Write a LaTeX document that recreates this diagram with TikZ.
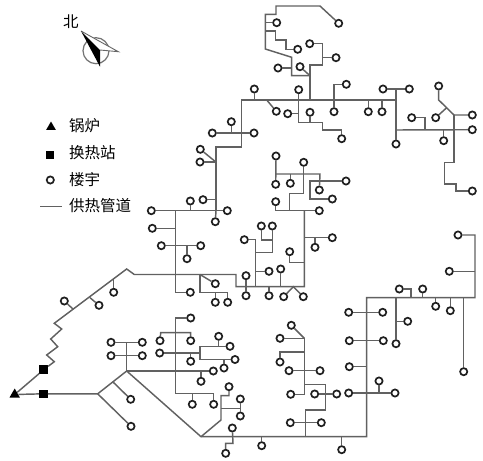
\documentclass[tikz,border=0pt]{standalone}
\usepackage{fontspec}
\usetikzlibrary{shapes.geometric}
\newfontfamily\cjk{Noto Sans CJK SC}
\definecolor{pipec}{gray}{0.38}
\tikzset{
  bld/.style={circle,draw=black!88,fill=white,line width=1.7pt,minimum size=7.2pt,inner sep=0pt},
  pipe/.style={draw=pipec,line width=1.45pt,line join=miter},
  sta/.style={rectangle,fill=black,minimum size=8.5pt,inner sep=0pt},
  boiler/.style={regular polygon,regular polygon sides=3,fill=black,minimum size=12pt,inner sep=0pt},
  lab/.style={anchor=west,inner sep=0pt,font=\cjk\fontsize{15.5}{15.5}\selectfont}
}
\begin{document}
\begin{tikzpicture}[x=1pt,y=-1pt]
\useasboundingbox (0,0) rectangle (483,461);
\fill[white] (0,0) rectangle (483,461);
% buildings
\foreach \n/\x/\y in {a1/338.7/23.3,a2/276.7/22.7,a3/297.7/49.3,a4/278/68,a5/300/66.7,a6/309.7/43.7,a7/336/57.7,a8/254.3/89,a9/298.7/89.7,a10/276.3/111.3,a11/287.7/113.7,a12/310/112.3,a13/341.7/138.7,a14/334/111.7,a15/346.3/84.3,a16/368.3/111.7,a17/382/111.7,a18/383/89,a19/409.3/89,a20/396/144,a21/472.3/129.7,a22/411.7/117.7,a23/443.7/140.7,a24/438.7/86,a25/472.3/115,a26/435.7/117.7,a27/472.3/191,a28/254/133,a29/212.3/133,a30/231.3/121.7,
c1/200.3/149.3,c2/200/162,c3/203/199.7,c4/151.3/210.7,c5/227.3/210.7,c6/190.3/201,c7/215.3/221.7,c8/152.3/228.3,c9/161.3/245.7,c10/200.7/245.7,c11/187/258.7,c12/190.3/292.3,c13/215.3/283.7,c14/215.3/302.3,c15/227.7/302.3,c16/246/275.7,c17/246/295.7,c18/269/295.7,c19/283.7/296.7,c20/303.3/296.7,c21/280.7/269,c22/269/271.3,c23/244.3/239.7,c24/272.3/226,c25/261.3/226,c26/289.7/251.7,c27/315/247.3,c28/332.3/237.7,c29/275.7/201.7,c30/319.3/210.7,c31/303.7/162.3,c32/276/156,c33/275.7/184.3,c34/290.3/183.3,c35/319.3/190,c36/346/181,c37/332.3/199,
d1/458/235,d2/449.3/271.3,d3/399.3/289,d4/422.7/289,d5/435.7/306.3,d6/450.3/310.7,d7/463.7/371.7,d8/396/343.7,d9/407.7/321.3,d10/348.7/312.3,d11/382.7/312.3,d12/349.3/340.7,d13/383.3/340.7,d14/349.3/366.7,d15/348.7/393,d16/395/393,d17/379/381,
e1/291.3/325.3,e2/280/338.3,e3/280/362,e4/289/370.7,e5/320/370.7,e6/290.7/394.3,e7/314.7/394,e8/336.7/394,e9/290.3/422.7,e10/321.3/422.7,e11/261.7/445.7,e12/341.7/449.7,
f1/64.3/301,f2/99/305.3,f3/113.7/292.3,f4/130.7/399.3,f5/131/426.3,f6/111/342.3,f7/142.3/342.3,f8/111/355.7,f9/142.3/355.7,f10/213.3/371,f11/201/381.3,f12/229/386.7,f13/240.3/399,f14/240.3/416,f15/232.3/428,f16/225.7/453.3,f17/190.7/318,f18/160/340.7,f19/190.7/340.7,f20/159.7/353,f21/190.7/361.3,f22/230/346.3,f23/218.7/336.3,f24/235/359.5,f25/224/368,f26/192.3/404.3,f27/213.7/404.3}
  {\node[bld] (\n) at (\x,\y) {};}
% sources and stations
\node[boiler] (boil) at (14.7,394.5) {};
\node[sta] (ex1) at (43.7,369.7) {};
\node[sta] (ex2) at (43.3,393.8) {};
% junctions
\coordinate (j0) at (97.7,393.8);
\coordinate (j1) at (126.7,371);
\coordinate (j2) at (201,436.7);
\coordinate (k1) at (175.7,210.7);
\coordinate (k2) at (304.3,210.7);
\coordinate (k3) at (366.7,297.7);
\begin{scope}[every path/.style={pipe}]
% north network
\draw (a1) -- (320,6) -- (276,6) -- (276,14.3) -- (265.3,14.3) -- (265.3,49) -- (291.7,57.3) -- (291.7,75.7) -- (310,75.7);
\draw (a2) -- (a2 -| 265.3,0);
\draw (a3) -- (286,49.3) -- (286,40) -- (275.7,40) -- (275.7,31) -- (265.3,31);
\draw (a4) -- (a4 -| 291.7,0);
\draw (a5) -- (310,75.7);
\draw (310,100) -- (310,65) -- (322.7,65) -- (322.7,43.7) -- (a6);
\draw (a7) -- (a7 -| 322.7,0);
\draw (k1 -| 216,0) -- (216,147) -- (241.7,147) -- (241.7,100) -- (396,100);
\draw (a8) -- (a8 |- 0,100);
\draw (a9) -- (298.7,122.3) -- (322.7,122.3) -- (322.7,130) -- (341.7,130) -- (a13);
\draw (a10) -- (266.7,100);
\draw (a11) -- (a11 -| 298.7,0);
\draw (a12) -- (a12 |- 0,122.3);
\draw (a14) -- (334,84.3) -- (a15);
\draw (a16) -- (a16 |- 0,100);
\draw (a17) -- (a17 |- 0,100);
\draw (a18) -- (a19);
\draw (396,89) -- (a20);
\draw (396,130) -- (a21);
\draw (a22) -- (425,117.7) -- (425,130);
\draw (a23) -- (a23 |- 0,130);
\draw (a24) -- (438.7,100) -- (454,115) -- (a25);
\draw (a26) -- (446.7,107.7);
\draw (454,115) -- (454,162.3) -- (444.7,162.3) -- (444.7,184) -- (456,184) -- (456,191) -- (a27);
\draw (a29) -- (241.7,133);
\draw (a28) -- (241.7,133);
\draw (a30) -- (a30 |- 0,133);
% west middle
\draw (c1) -- (215,161.3);
\draw (c2) -- (c2 -| 216,0);
\draw (c3) -- (c3 -| 216,0);
\draw (c4) -- (c5);
\draw (c6) -- (c6 |- 0,210.7);
\draw (216,210.7) -- (c7);
\draw (k1) -- (175.7,292.3) -- (c12);
\draw (c8) -- (c8 -| 175.7,0);
\draw (c9) -- (c10);
\draw (c11) -- (c11 |- 0,245.7);
% main to the centre
\draw (boil) -- (ex1);
\draw (ex1) -- (54.3,361.7) -- (46.7,355) -- (57.7,346.7) -- (50.7,339) -- (61.7,329) -- (54.3,323.3) -- (126.7,269) -- (134.3,274.5) -- (236,274.5) -- (236,286.7) -- (304.3,286.7) -- (k2);
\draw (f1) -- (73.3,309.3);
\draw (f2) -- (90,297.7);
\draw (f3) -- (113.7,279);
\draw (c13) -- (200,274.5);
\draw (200,274.5) -- (200,292.3) -- (227.7,292.3) -- (c15);
\draw (c14) -- (c14 |- 0,292.3);
\draw (c16) -- (c17);
\draw (c18) -- (c18 |- 0,286.7);
\draw (c19) -- (293.3,286.7) -- (c20);
\draw (c21) -- (c21 |- 0,286.7);
\draw (c22) -- (c22 -| 255.7,0);
\draw (255.7,286.7) -- (255.7,239.7) -- (c23);
\draw (255.7,252.3) -- (272.3,252.3) -- (c24);
\draw (c25) -- (261.3,240) -- (272.3,240);
\draw (c26) -- (289.7,262.7) -- (304.3,262.7);
\draw (304.3,237.7) -- (c28);
\draw (c27) -- (c27 |- 0,237.7);
\draw (c29) -- (275.7,210.7) -- (c30);
\draw (289.7,210.7) -- (289.7,193.3) -- (303.7,193.3) -- (c31);
\draw (c32) -- (c33);
\draw (275.7,174) -- (320,174) -- (c35);
\draw (c34) -- (c34 |- 0,174);
\draw (c36) -- (310,181) -- (310,199) -- (c37);
% southern main
\draw (boil) -- (ex2) -- (j0) -- (j1) -- (j2) -- (366.7,436.7) -- (k3) -- (475,297.7) -- (475,235) -- (d1);
\draw (j0) -- (f5);
\draw (f4) -- (113.3,382.3);
\draw (j1) -- (126.7,342.3);
\draw (f6) -- (f7);
\draw (f8) -- (f9);
\draw (j1) -- (f10);
\draw (f11) -- (f11 |- 0,371);
\draw (f17) -- (175.7,318) -- (175.7,393.3) -- (213.7,393.3) -- (f27);
\draw (f26) -- (f26 |- 0,393.3);
\draw (f18) -- (160.7,332.7) -- (190.7,332.7) -- (f19);
\draw (f20) -- (200,353);
\draw (f21) -- (f21 |- 0,353);
\draw (f22) -- (200,346.3) -- (200,359.5) -- (f24);
\draw (f23) -- (f23 |- 0,346.3);
\draw (f25) -- (f25 |- 0,359.5);
\draw (j2) -- (221,420) -- (221,395.7) -- (229,395.7) -- (f12);
\draw (221,408.3) -- (240.3,408.3);
\draw (f13) -- (f14);
\draw (f15) -- (233,443.3) -- (225.7,443.3) -- (f16);
\draw (e11) -- (e11 |- 0,436.7);
\draw (e12) -- (e12 |- 0,436.7);
% lower centre
\draw (e1) -- (304.3,338.3);
\draw (e2) -- (304.3,338.3) -- (304.3,394.3) -- (e6);
\draw (e3) -- (280,352) -- (304.3,352);
\draw (e4) -- (e5);
\draw (304.3,384.3) -- (325.7,384.3) -- (325.7,410) -- (305.3,410) -- (305.3,436.7);
\draw (e7) -- (e8);
\draw (e9) -- (e10);
% east
\draw (d2) -- (d2 -| 475,0);
\draw (d3) -- (411,289) -- (411,297.7);
\draw (d4) -- (d4 |- 0,297.7);
\draw (d5) -- (d5 |- 0,297.7);
\draw (d6) -- (d6 |- 0,297.7);
\draw (d7) -- (d7 |- 0,297.7);
\draw (396,297.7) -- (d8);
\draw (d9) -- (d9 -| 396,0);
\draw (d10) -- (d11);
\draw (d12) -- (d13);
\draw (d14) -- (d14 -| 366.7,0);
\draw (d15) -- (d16);
\draw (d17) -- (d17 |- 0,393);
\end{scope}
% compass
\node[circle,draw=black!55,line width=1.2pt,minimum size=26pt,inner sep=0pt] (ring) at (96,50.7) {};
\coordinate (nt) at (81,31);
\coordinate (et) at (118.3,51.7);
\coordinate (st) at (100,66.7);
\coordinate (cc) at (100,50);
\fill[white] (nt) -- (et) -- (cc) -- cycle;
\draw[black!60,line width=0.9pt] (nt) -- (et) -- (cc);
\fill[black] (nt) -- (cc) -- (st) -- cycle;
\node[lab] (north) at (63,22) {北};
% legend
\node[boiler,minimum size=11pt] (lg1) at (51,127) {};
\node[lab] (t1) at (69,126) {锅炉};
\node[sta,minimum size=8pt] (lg2) at (50.3,154.7) {};
\node[lab] (t2) at (69,153) {换热站};
\node[bld] (lg3) at (50.3,180) {};
\node[lab] (t3) at (69,180) {楼宇};
\coordinate (lg4a) at (40,206);
\coordinate (lg4b) at (62,206);
\draw[pipe,line width=1pt] (lg4a) -- (lg4b);
\node[lab] (t4) at (69,206) {供热管道};
\end{tikzpicture}
\end{document}
